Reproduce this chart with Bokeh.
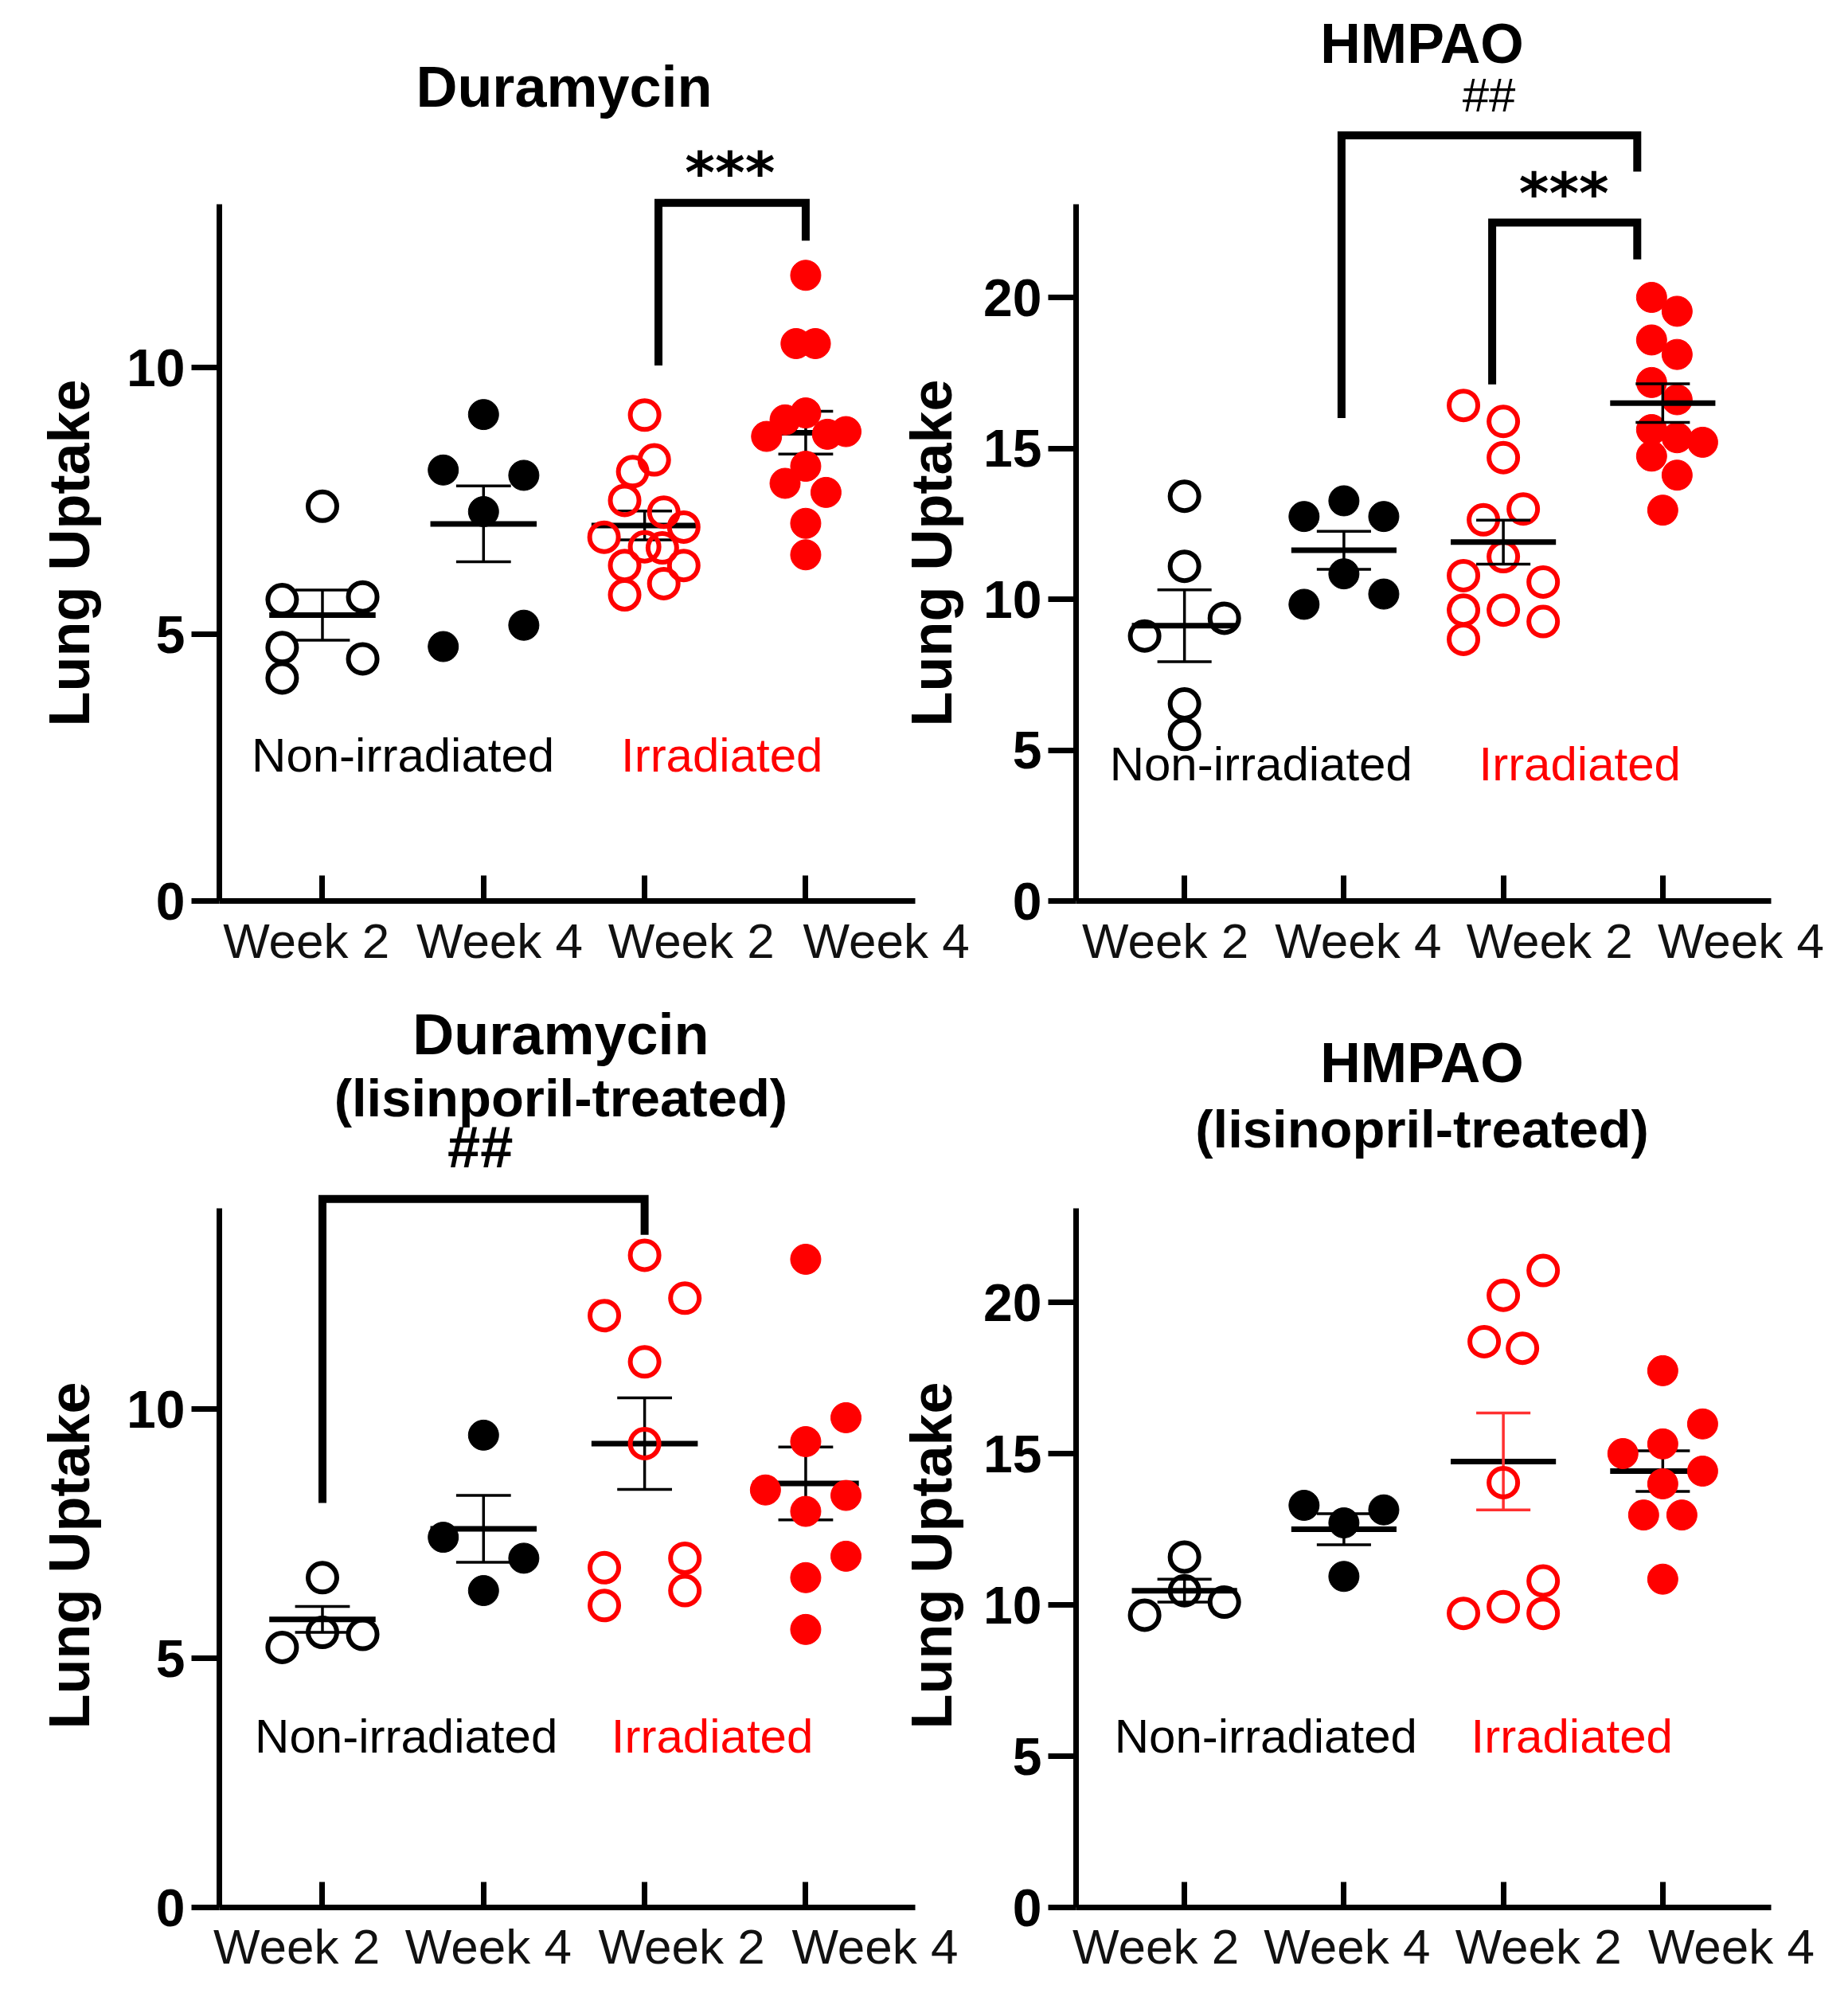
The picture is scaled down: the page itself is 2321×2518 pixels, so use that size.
from bokeh.plotting import figure
from bokeh.layouts import row, column
from bokeh.models import Range1d, FixedTicker, LinearAxis, Title
from bokeh.core.properties import value
from bokeh.embed import file_html
from bokeh.resources import INLINE

RED = "#FF0000"
BLACK = "#000000"
FONT = "Liberation Sans"

tick_labels = ["Week 2", "Week 4", "Week 2", "Week 4"]
group_labels = ["Non-irradiated", "Irradiated"]
y_label = "Lung Uptake"

# ---------------- Panel A: Duramycin ----------------
dur_nonirr_w2 = [7.40, 5.65, 5.70, 4.75, 4.54, 4.18]
dur_nonirr_w2_jit = [0, -0.25, 0.25, -0.25, 0.25, -0.25]
dur_nonirr_w4 = [9.12, 8.08, 7.98, 7.30, 5.17, 4.77]
dur_nonirr_w4_jit = [0, -0.25, 0.25, 0, 0.25, -0.25]
dur_irr_w2 = [9.11, 8.27, 8.05, 7.51, 7.29, 7.01, 6.82, 6.64, 6.62, 6.29, 6.29, 5.95, 5.74]
dur_irr_w2_jit = [0, 0.06, -0.074, -0.124, 0.119, 0.243, -0.252, 0, 0.11, -0.124, 0.243, 0.119, -0.124]
dur_irr_w4 = [11.73, 10.45, 10.45, 9.15, 9.02, 8.71, 8.75, 8.80, 8.15, 7.83, 7.66, 7.08, 6.49]
dur_irr_w4_jit = [0, -0.06, 0.06, 0, -0.128, -0.243, 0.135, 0.25, 0, -0.128, 0.126, 0, 0]
dur_mean = [5.36, 7.07, 7.04, 8.78]
dur_sem = [0.47, 0.71, 0.27, 0.40]

# ---------------- Panel B: HMPAO ----------------
hm_nonirr_w2 = [13.41, 11.09, 9.37, 8.78, 6.53, 5.52]
hm_nonirr_w2_jit = [0, 0, 0.25, -0.25, 0, 0]
hm_nonirr_w4 = [13.26, 12.74, 12.74, 10.84, 10.17, 9.83]
hm_nonirr_w4_jit = [0, -0.25, 0.25, 0, 0.25, -0.25]
hm_irr_w2 = [16.42, 15.89, 14.69, 12.99, 12.63, 11.41, 10.78, 10.57, 9.64, 9.64, 9.26, 8.67]
hm_irr_w2_jit = [-0.25, 0, 0, 0.125, -0.125, 0, -0.25, 0.25, -0.25, 0, 0.25, -0.25]
hm_irr_w4 = [20.0, 19.54, 18.59, 18.11, 17.18, 16.61, 15.62, 15.35, 15.20, 14.74, 14.11, 12.95]
hm_irr_w4_jit = [-0.07, 0.09, -0.07, 0.09, -0.07, 0.09, -0.07, 0.09, 0.25, -0.07, 0.09, 0]
hm_mean = [9.12, 11.62, 11.89, 16.50]
hm_sem = [1.19, 0.63, 0.73, 0.64]

# ---------------- Panel C: Duramycin (lisinopril) ----------------
ldur_nonirr_w2 = [6.62, 5.52, 5.48, 5.22]
ldur_nonirr_w2_jit = [0, 0, 0.25, -0.25]
ldur_nonirr_w4 = [9.48, 7.43, 7.01, 6.36]
ldur_nonirr_w4_jit = [0, -0.25, 0.25, 0]
ldur_irr_w2 = [13.09, 12.23, 11.88, 10.95, 9.31, 7.01, 6.82, 6.36, 6.06]
ldur_irr_w2_jit = [0, 0.25, -0.25, 0, 0, 0.25, -0.25, 0.25, -0.25]
ldur_irr_w4 = [13.01, 9.83, 9.35, 8.38, 8.27, 7.95, 7.05, 6.62, 5.58]
ldur_irr_w4_jit = [0, 0.25, 0, -0.25, 0.25, 0, 0.25, 0, 0]
ldur_mean = [5.78, 7.60, 9.31, 8.51]
ldur_sem = [0.26, 0.67, 0.92, 0.73]

# ---------------- Panel D: HMPAO (lisinopril) ----------------
lhm_nonirr_w2 = [11.58, 10.47, 10.09, 9.66]
lhm_nonirr_w2_jit = [0, 0, 0.25, -0.25]
lhm_nonirr_w4 = [13.29, 13.14, 12.71, 10.94]
lhm_nonirr_w4_jit = [-0.25, 0.25, 0, 0]
lhm_irr_w2 = [21.05, 20.23, 18.70, 18.48, 14.04, 10.79, 9.94, 9.72, 9.72]
lhm_irr_w2_jit = [0.25, 0, -0.12, 0.12, 0, 0.25, 0, -0.25, 0.25]
lhm_irr_w4 = [17.74, 15.98, 15.32, 15.00, 14.42, 14.00, 12.97, 12.97, 10.85]
lhm_irr_w4_jit = [0, 0.25, 0, -0.25, 0.25, 0, -0.12, 0.12, 0]
lhm_mean = [10.47, 12.50, 14.74, 14.42]
lhm_sem = [0.38, 0.51, 1.60, 0.67]

GROUP_COLOR = [BLACK, BLACK, RED, RED]
GROUP_OPEN = [True, False, True, False]
H = 1250


def add_text(p, x, y, txt, size, bold=False, color=BLACK, font=FONT):
    p.text(x=[x], y=[y], text=[txt], text_font=value(font), text_font_size=size,
           text_font_style="bold" if bold else "normal", text_color=color,
           text_align="center", text_baseline="middle")


def make_panel(groups, jits, means, sems, cfg):
    p = figure(width=cfg["w"], height=H,
               x_range=Range1d(*cfg["xr"]), y_range=Range1d(0, cfg["ytop"]),
               output_backend="svg", toolbar_location=None,
               min_border_left=cfg["bl"], min_border_right=cfg["br"],
               min_border_top=5, min_border_bottom=cfg["bb"],
               background_fill_color=None, border_fill_color=None,
               outline_line_color=None)
    p.grid.visible = False
    if "margin" in cfg:
        p.margin = cfg["margin"]

    # x axis: line + inward ticks at categories
    xa = p.xaxis[0]
    xa.ticker = FixedTicker(ticks=[1, 2, 3, 4])
    xa.major_label_text_font_size = "0px"
    xa.major_label_text_color = None
    xa.major_label_standoff = 0
    xa.axis_line_width = 7
    xa.major_tick_line_width = 7
    xa.major_tick_in = 32
    xa.major_tick_out = 0
    xa.minor_tick_line_color = None
    # label axis (labels slightly spread as in the original)
    lab_pos = cfg["labpos"]
    la = LinearAxis(ticker=FixedTicker(ticks=lab_pos),
                    major_label_overrides={pos: t for pos, t in zip(lab_pos, tick_labels)},
                    axis_line_color=None, major_tick_line_color=None,
                    minor_tick_line_color=None,
                    major_label_standoff=cfg["lstand"],
                    major_label_text_font=FONT,
                    major_label_text_font_size="62px",
                    major_label_text_color="#111111")
    p.add_layout(la, "below")

    ya = p.yaxis[0]
    ya.ticker = FixedTicker(ticks=cfg["yticks"])
    ya.bounds = (0, cfg["ymax"])
    ya.axis_line_width = 7
    ya.major_tick_line_width = 7
    ya.major_tick_out = 35
    ya.major_tick_in = 0
    ya.minor_tick_line_color = None
    ya.major_label_standoff = 8
    ya.major_label_text_font = FONT
    ya.major_label_text_font_style = "bold"
    ya.major_label_text_font_size = "66px"
    ya.major_label_text_color = BLACK

    # y-axis title, placed along the drawn part of the axis
    p.add_layout(Title(text=y_label, align="left", offset=cfg["yoff"],
                       standoff=cfg["ystand"], text_font=FONT,
                       text_font_style="bold", text_font_size="72px",
                       text_color=BLACK), "left")

    def draw_bars():
        cats = [1, 2, 3, 4]
        p.segment(x0=[c - 0.33 for c in cats], x1=[c + 0.33 for c in cats],
                  y0=means, y1=means, line_color=BLACK, line_width=7)
        sem_cols = cfg.get("semcol", [BLACK] * 4)
        lo = [m - s for m, s in zip(means, sems)]
        hi = [m + s for m, s in zip(means, sems)]
        p.segment(x0=cats, x1=cats, y0=lo, y1=hi, line_color=sem_cols, line_width=3.5)
        p.segment(x0=[c - 0.17 for c in cats], x1=[c + 0.17 for c in cats],
                  y0=lo, y1=lo, line_color=sem_cols, line_width=3.5)
        p.segment(x0=[c - 0.17 for c in cats], x1=[c + 0.17 for c in cats],
                  y0=hi, y1=hi, line_color=sem_cols, line_width=3.5)

    def draw_points():
        for gi, (vals, jit) in enumerate(zip(groups, jits)):
            xs = [gi + 1 + j for j in jit]
            col = GROUP_COLOR[gi]
            if GROUP_OPEN[gi]:
                p.scatter(x=xs, y=vals, marker="circle", size=36, fill_color=None,
                          line_color=col, line_width=6)
            else:
                p.scatter(x=xs, y=vals, marker="circle", size=38, fill_color=col,
                          line_color=col, line_width=1)

    if cfg.get("bars_on_top", False):
        draw_points()
        draw_bars()
    else:
        draw_bars()
        draw_points()

    # significance brackets
    for bx, by in cfg.get("brackets", []):
        p.line(x=bx, y=by, line_color=BLACK, line_width=10, line_join="miter")

    # titles and annotations
    for (tx, ty, txt, size, bold, font) in cfg["texts"]:
        add_text(p, tx, ty, txt, size, bold=bold, font=font)
    gx, gy = cfg["grp"]
    add_text(p, gx[0], gy, group_labels[0], "60px", color=BLACK)
    add_text(p, gx[1], gy, group_labels[1], "60px", color=RED)
    return p


p1 = make_panel(
    [dur_nonirr_w2, dur_nonirr_w4, dur_irr_w2, dur_irr_w4],
    [dur_nonirr_w2_jit, dur_nonirr_w4_jit, dur_irr_w2_jit, dur_irr_w4_jit],
    dur_mean, dur_sem,
    dict(w=1230, xr=(0.36, 4.68), ytop=16.81, bl=275, br=81, bb=119,
         yticks=[0, 5, 10], ymax=13.06, lstand=9, yoff=219, ystand=60,
         labpos=[0.9, 2.1, 3.29, 4.5],
         brackets=[([3.086, 3.086, 4.0, 4.0], [10.04, 13.09, 13.09, 12.38])],
         texts=[(2.5, 15.26, "Duramycin", "72px", True, FONT),
                (3.53, 13.65, "***", "72px", True, "DejaVu Sans")],
         grp=([1.50, 3.48], 2.73)))

p2 = make_panel(
    [hm_nonirr_w2, hm_nonirr_w4, hm_irr_w2, hm_irr_w4],
    [hm_nonirr_w2_jit, hm_nonirr_w4_jit, hm_irr_w2_jit, hm_irr_w4_jit],
    hm_mean, hm_sem,
    dict(w=1201, xr=(0.32, 4.68), ytop=29.71, bl=245, br=81, bb=119,
         yticks=[0, 5, 10, 15, 20], ymax=23.09, lstand=9, yoff=219, ystand=46,
         labpos=[0.88, 2.09, 3.29, 4.49], margin=(0, 0, 0, -126), bars_on_top=True,
         brackets=[([1.985, 1.985, 3.84, 3.84], [16.0, 25.37, 25.37, 24.17]),
                   ([2.93, 2.93, 3.84, 3.84], [17.12, 22.48, 22.48, 21.26])],
         texts=[(2.49, 28.4, "HMPAO", "70px", True, FONT),
                (2.91, 26.7, "##", "60px", False, FONT),
                (3.38, 23.45, "***", "72px", True, "DejaVu Sans")],
         grp=([1.48, 3.48], 4.53)))

p3 = make_panel(
    [ldur_nonirr_w2, ldur_nonirr_w4, ldur_irr_w2, ldur_irr_w4],
    [ldur_nonirr_w2_jit, ldur_nonirr_w4_jit, ldur_irr_w2_jit, ldur_irr_w4_jit],
    ldur_mean, ldur_sem,
    dict(w=1230, xr=(0.36, 4.68), ytop=18.22, bl=275, br=81, bb=105,
         yticks=[0, 5, 10], ymax=14.03, lstand=8, yoff=224, ystand=60,
         labpos=[0.84, 2.03, 3.23, 4.43],
         brackets=[([1.0, 1.0, 3.0, 3.0], [8.12, 14.22, 14.22, 13.5])],
         texts=[(2.48, 17.53, "Duramycin", "72px", True, FONT),
                (2.48, 16.26, "(lisinporil-treated)", "67px", True, FONT),
                (1.98, 15.26, "##", "74px", True, FONT)],
         grp=([1.52, 3.42], 3.44)))

p4 = make_panel(
    [lhm_nonirr_w2, lhm_nonirr_w4, lhm_irr_w2, lhm_irr_w4],
    [lhm_nonirr_w2_jit, lhm_nonirr_w4_jit, lhm_irr_w2_jit, lhm_irr_w4_jit],
    lhm_mean, lhm_sem,
    dict(w=1201, xr=(0.32, 4.68), ytop=30.0, bl=245, br=81, bb=105,
         yticks=[0, 5, 10, 15, 20], ymax=23.1, lstand=8, yoff=224, ystand=46,
         labpos=[0.82, 2.02, 3.22, 4.43], margin=(0, 0, 0, -126),
         semcol=[BLACK, BLACK, "#FF3030", BLACK],
         texts=[(2.49, 27.9, "HMPAO", "70px", True, FONT),
                (2.49, 25.75, "(lisinopril-treated)", "67px", True, FONT)],
         grp=([1.51, 3.43], 5.66)))

layout = column(row(p1, p2), row(p3, p4))
open("out.html", "w").write(file_html(layout, INLINE))
